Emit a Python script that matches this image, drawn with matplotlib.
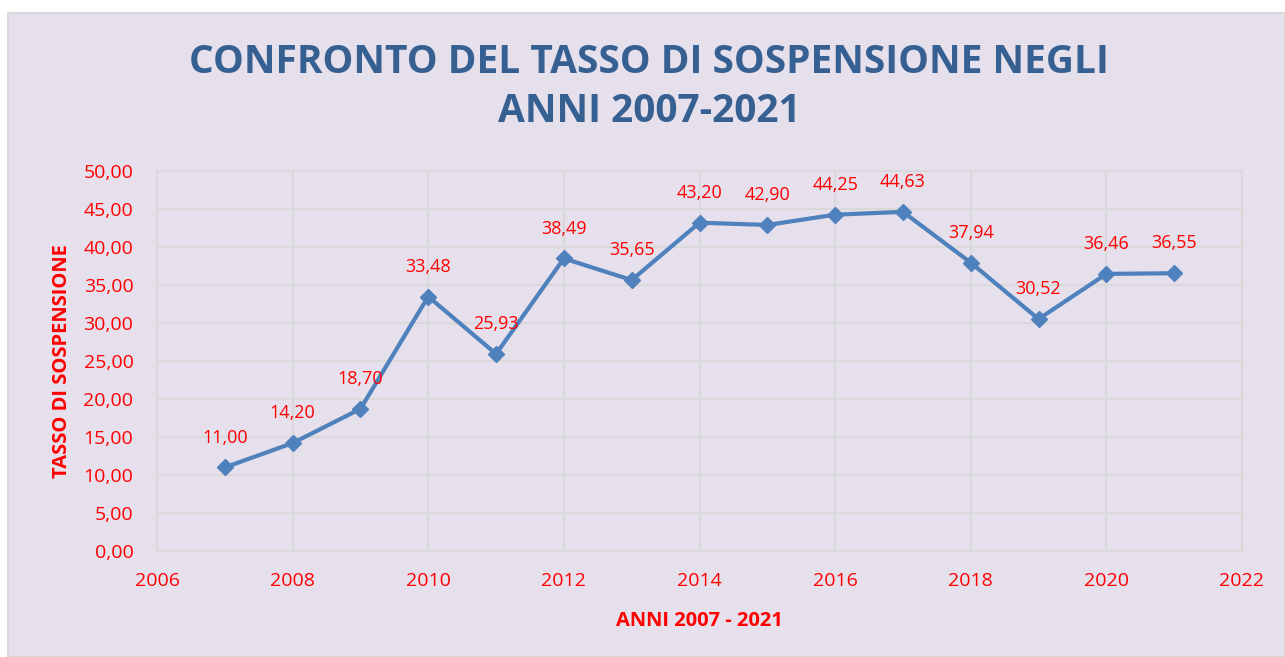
import matplotlib.pyplot as plt
from matplotlib.patches import Rectangle
from matplotlib.ticker import FuncFormatter, MultipleLocator

# data
anni = [2007, 2008, 2009, 2010, 2011, 2012, 2013, 2014, 2015, 2016, 2017, 2018, 2019, 2020, 2021]
tasso = [11.00, 14.20, 18.70, 33.48, 25.93, 38.49, 35.65, 43.20, 42.90, 44.25, 44.63, 37.94, 30.52, 36.46, 36.55]

title = 'CONFRONTO DEL TASSO DI SOSPENSIONE NEGLI\nANNI 2007-2021'
bg = '#E6E0EC'
grid_c = '#D9D9D9'
red = '#FF0000'
blue = '#4F81BD'

plt.rcParams['font.family'] = ['Open Sans', 'DejaVu Sans']

fig = plt.figure(figsize=(12.85, 6.57), dpi=100)
fig.patch.set_facecolor('white')
fig.patches.append(Rectangle((8 / 1285, 0), 1 - 8 / 1285, 1 - 13 / 657,
                             transform=fig.transFigure, facecolor=bg,
                             edgecolor=grid_c, linewidth=1.5, zorder=-1))

ax = fig.add_axes([157 / 1285, 106 / 657, 1085 / 1285, 380 / 657])
ax.set_zorder(2)
ax.set_facecolor(bg)

ax.plot(anni, tasso, color=blue, linewidth=3, marker='D', markersize=8, zorder=3)
for x, y in zip(anni, tasso):
    ax.annotate(f'{y:.2f}'.replace('.', ','), (x, y), xytext=(0, 15),
                textcoords='offset points', ha='center', va='bottom',
                color=red, fontsize=13)

ax.set_xlim(2006, 2022)
ax.set_ylim(0, 50)
ax.xaxis.set_major_locator(MultipleLocator(2))
ax.yaxis.set_major_locator(MultipleLocator(5))
ax.yaxis.set_major_formatter(FuncFormatter(lambda v, p: f'{v:.2f}'.replace('.', ',')))
ax.grid(True, color=grid_c, linewidth=1.5)
ax.set_axisbelow(True)
for s in ax.spines.values():
    s.set_color(grid_c)
    s.set_linewidth(1.5)
ax.tick_params(length=0, colors=red, labelsize=14)
ax.tick_params(axis='x', pad=15)
ax.tick_params(axis='y', pad=17)

ax.set_xlabel('ANNI 2007 - 2021', color=red, fontsize=14.5, fontweight='bold', labelpad=15)
ax.set_ylabel('TASSO DI SOSPENSIONE', color=red, fontsize=14.5, fontweight='bold', labelpad=8)

fig.text(0.505, 1 - 87 / 657, title, ha='center', va='center', color='#376092',
         fontsize=28, fontweight='bold', linespacing=1.35)

plt.savefig('out.png', dpi=100)
